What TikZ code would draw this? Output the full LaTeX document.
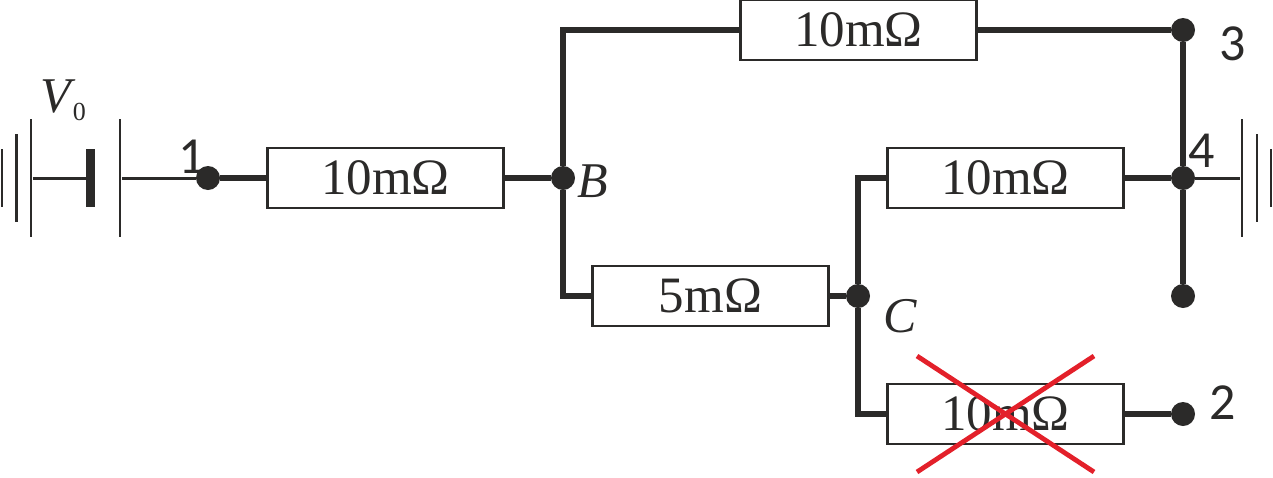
\documentclass[tikz,border=0pt]{standalone}
\usepackage{fontspec}
\usepackage{tikz}
\usepackage{xcolor}
\setmainfont{Liberation Serif}
\newfontfamily\digitfont{Carlito}
\definecolor{ink}{HTML}{2B2A29}
\definecolor{crossred}{HTML}{E3202A}

\begin{document}
\begin{tikzpicture}[x=0.5pt, y=-0.5pt, ink, text=ink,
  res/.style = {draw=ink, line width=1.2pt, fill=white, minimum width=118pt, minimum height=30pt, inner sep=0pt, font=\fontsize{25.5}{30}\selectfont},
  dot/.style = {circle, fill=ink, minimum size=12pt, inner sep=0pt},
  plate/.style = {fill=ink, inner sep=0pt, minimum width=1.4pt, minimum height=#1},
  wire/.style = {line width=3.2pt},
  lead/.style = {line width=1.5pt},
  lab/.style = {inner sep=0pt, font=\digitfont\fontsize{26}{30}\selectfont},
  letter/.style = {inner sep=0pt, font=\itshape\fontsize{25}{30}\selectfont}]
\useasboundingbox (0,0) rectangle (1273,477);

\node[dot] (n1) at (208,178) {};
\node[res] (r1) at (385.5,178) {10mΩ};
\node[dot] (B) [right of=n1, node distance=177.5pt] {};
\node[res] (r5) at (710.5,296) {5mΩ};
\node[dot] (C) at (858,296) {};
\node[res] (r3) at (858.5,30) {10mΩ};
\node[res] (r4) at (1005.5,178) {10mΩ};
\node[res] (r2) [below of=r4, node distance=118pt] {10mΩ};
\node[dot] (n3) at (1183,30) {};
\node[dot] (n4) at (1183,178) {};
\node[dot] (n5) [below of=n4, node distance=59pt] {};
\node[dot] (n2) at (1183,414) {};

% battery
\node[plate=29pt] (a1) at (2,178) {};
\node[plate=44pt] (a2) at (16.5,178) {};
\node[plate=59pt] (a3) at (31,178) {};
\node[fill=ink, inner sep=0pt, minimum width=4.5pt, minimum height=29pt] (a4) at (90.5,178) {};
\node[plate=59pt] (a5) at (120,178) {};
\node[plate=59pt] (g1) at (1242,178) {};
\node[plate=44pt] (g2) at (1257,178) {};
\node[plate=29pt] (g3) at (1271,178) {};

\draw[lead] (a3) -- (a4);
\draw[lead] (a5) -- (n1);
\draw[lead] (n4) -- (g1);

\draw[wire] (n1) -- (r1);
\draw[wire] (r1) -- (B);
\draw[wire] (B) |- (r3.west);
\draw[wire] (B) |- (r5.west);
\draw[wire] (r5) -- (C);
\draw[wire] (C) |- (r4.west);
\draw[wire] (C) |- (r2.west);
\draw[wire] (r3) -- (n3);
\draw[wire] (r4) -- (n4);
\draw[wire] (r2) -- (n2);
\draw[wire] (n3) -- (n4);
\draw[wire] (n4) -- (n5);

\node[letter] (lB) at (593,181) {B};
\node[letter] (lC) at (900,316) {C};
\node[lab] (l1) at (192,157) {1};
\node[lab] (l2) at (1223,403) {2};
\node[lab] (l3) at (1233,44) {3};
\node[lab] (l4) at (1202,151) {4};
\node[inner sep=0pt] (lV) at (63,100) {\fontsize{25}{30}\selectfont\itshape V\kern1pt\raisebox{-4pt}{\upshape\fontsize{13}{15}\selectfont 0}};

% crossed out
\coordinate (xa) at (917,356);
\coordinate (xb) at (1094,472);
\coordinate (xc) at (1094,356);
\coordinate (xd) at (917,472);
\draw[crossred, line width=2.4pt] (xa) -- (xb);
\draw[crossred, line width=2.4pt] (xc) -- (xd);
\end{tikzpicture}
\end{document}
